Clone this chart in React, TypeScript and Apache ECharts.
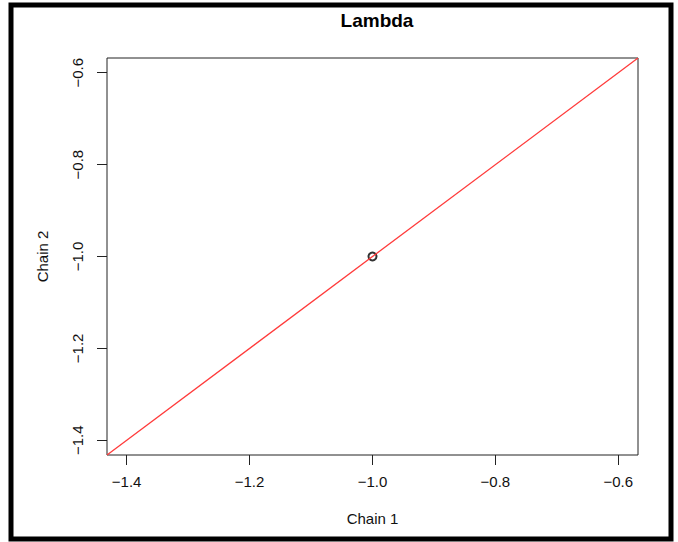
import React, { useEffect, useRef } from "react";
import * as echarts from "echarts";

const chartTitle = "Lambda";
const xName = "Chain 1";
const yName = "Chain 2";
const tickValues = [-1.4, -1.2, -1.0, -0.8, -0.6];
const axisMin = -1.432;
const axisMax = -0.568;
const pointX = [-1.0];
const pointY = [-1.0];
// identity reference line y = x across the full axis range
const lineX = [axisMin, axisMax];
const lineY = [axisMin, axisMax];

const FONT = "'Liberation Sans', Arial, Helvetica, sans-serif";
const fmt = (v: number) => v.toFixed(1).replace("-", "\u2212");

export default function App() {
  const ref = useRef<HTMLDivElement>(null);
  useEffect(() => {
    document.body.style.margin = "0";
    const chart = echarts.init(ref.current!, null, { renderer: "svg" });
    chart.setOption({
      animation: false,
      backgroundColor: "#fff",
      title: {
        text: chartTitle,
        left: 372,
        top: 6,
        textAlign: "center",
        textStyle: { fontFamily: FONT, fontSize: 19, fontWeight: "bold", color: "#000" },
      },
      grid: {
        left: 107,
        top: 58,
        width: 531,
        height: 397,
        show: true,
        borderColor: "#222",
        borderWidth: 1,
        backgroundColor: "transparent",
      },
      xAxis: {
        type: "value",
        min: axisMin,
        max: axisMax,
        name: xName,
        nameLocation: "middle",
        nameGap: 56,
        nameTextStyle: { fontFamily: FONT, fontSize: 15, color: "#111" },
        axisLine: { show: false },
        splitLine: { show: false },
        axisTick: { show: true, length: 10, customValues: tickValues, lineStyle: { color: "#222" } },
        axisLabel: {
          customValues: tickValues,
          formatter: fmt,
          margin: 19,
          fontFamily: FONT,
          fontSize: 15,
          color: "#111",
        },
      },
      yAxis: {
        type: "value",
        min: axisMin,
        max: axisMax,
        name: yName,
        nameLocation: "middle",
        nameRotate: 90,
        nameGap: 57,
        nameTextStyle: { fontFamily: FONT, fontSize: 15, color: "#111" },
        axisLine: { show: false },
        splitLine: { show: false },
        axisTick: { show: true, length: 10, customValues: tickValues, lineStyle: { color: "#222" } },
        axisLabel: {
          customValues: tickValues,
          formatter: fmt,
          rotate: 90,
          margin: 22,
          fontFamily: FONT,
          fontSize: 15,
          color: "#111",
        },
      },
      series: [
        {
          type: "line",
          data: lineX.map((x, i) => [x, lineY[i]]),
          showSymbol: false,
          lineStyle: { color: "#ff3b3b", width: 1.3 },
          silent: true,
        },
        {
          type: "scatter",
          data: pointX.map((x, i) => [x, pointY[i]]),
          symbol: "circle",
          symbolSize: 8,
          itemStyle: { color: "rgba(255,255,255,0)", borderColor: "#000", borderWidth: 2 },
        },
      ],
      graphic: [
        {
          type: "rect",
          shape: { x: 11, y: 5, width: 660, height: 534 },
          style: { fill: "none", stroke: "#000", lineWidth: 5 },
          silent: true,
        },
      ],
    });
    return () => chart.dispose();
  }, []);
  return (
    <div
      ref={ref}
      style={{ position: "fixed", left: 0, top: 0, width: 678, height: 542 }}
    />
  );
}
